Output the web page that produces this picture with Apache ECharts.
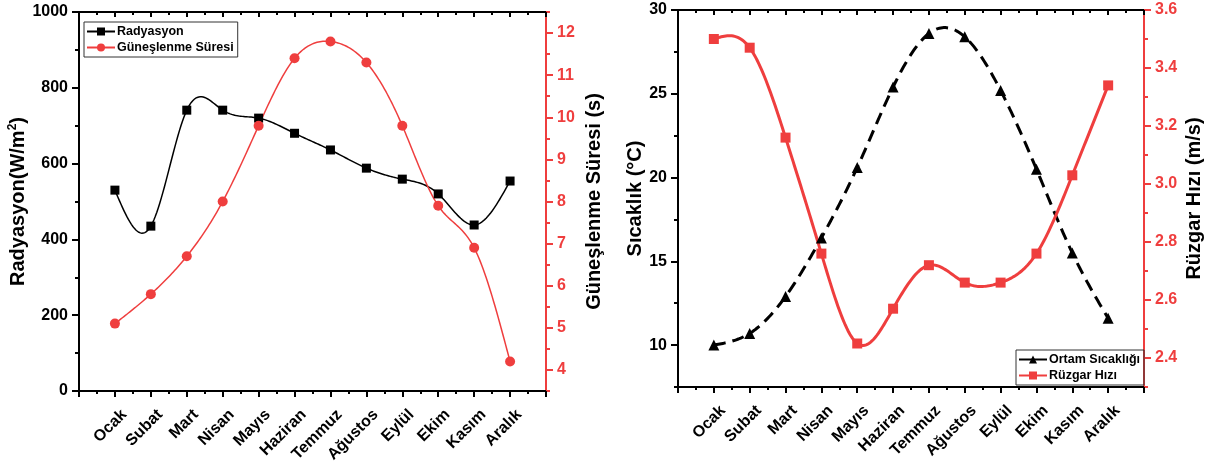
<!DOCTYPE html>
<html><head><meta charset="utf-8">
<script src="https://cdn.jsdelivr.net/npm/echarts@6/dist/echarts.min.js"></script>
<style>html,body{margin:0;padding:0;background:#fff}#c{width:1207px;height:461px}</style>
</head><body><div id="c"></div>
<script>
const months = ['Ocak','Subat','Mart','Nisan','Mayıs','Haziran','Temmuz','Ağustos','Eylül','Ekim','Kasım','Aralık'];
const radyasyon = [530,435,741,741,720,680,636,588,559,520,438,554];
const gunes = [5.1,5.8,6.7,8.0,9.8,11.4,11.8,11.3,9.8,7.9,6.9,4.2];
const sicaklik = [10.0,10.7,12.9,16.4,20.6,25.4,28.6,28.4,25.2,20.5,15.5,11.6];
const ruzgar = [3.5,3.47,3.16,2.76,2.45,2.57,2.72,2.66,2.66,2.76,3.03,3.34];
const radTicks = [0,200,400,600,800,1000];
const gunesTicks = [4,5,6,7,8,9,10,11,12];
const gunesMinor = [3.5,4.5,5.5,6.5,7.5,8.5,9.5,10.5,11.5,12.5];
const sicTicks = [10,15,20,25,30];
const sicMinor = [7.5,12.5,17.5,22.5,27.5];
const ruzTicks = [2.4,2.6,2.8,3.0,3.2,3.4,3.6];
const ruzMinor = [2.3,2.5,2.7,2.9,3.1,3.3,3.5];

const RED = '#ef3e3e';
const FONT = "'Liberation Sans', Arial, sans-serif";

function splinePoints(p, steps){
  const n = p.length;
  if (n < 3) return p;
  const h = [], M = new Array(n).fill(0);
  for (let i = 0; i < n - 1; i++) h[i] = p[i+1][0] - p[i][0];
  const A = [], B = [], C = [], D = [];
  for (let i = 1; i < n - 1; i++) {
    A.push(h[i-1]); B.push(2 * (h[i-1] + h[i])); C.push(h[i]);
    D.push(6 * ((p[i+1][1] - p[i][1]) / h[i] - (p[i][1] - p[i-1][1]) / h[i-1]));
  }
  const m = B.length;
  for (let i = 1; i < m; i++) {
    const w = A[i] / B[i-1];
    B[i] -= w * C[i-1]; D[i] -= w * D[i-1];
  }
  const X = new Array(m);
  X[m-1] = D[m-1] / B[m-1];
  for (let i = m - 2; i >= 0; i--) X[i] = (D[i] - C[i] * X[i+1]) / B[i];
  for (let i = 0; i < m; i++) M[i+1] = X[i];
  const out = [];
  for (let i = 0; i < n - 1; i++) {
    const x0 = p[i][0], x1 = p[i+1][0], y0 = p[i][1], y1 = p[i+1][1], hi = h[i];
    for (let s = 0; s < steps; s++) {
      const t = s / steps, x = x0 + t * hi;
      const a = x1 - x, b = x - x0;
      const y = M[i] * a * a * a / (6 * hi) + M[i+1] * b * b * b / (6 * hi)
        + (y0 / hi - M[i] * hi / 6) * a + (y1 / hi - M[i+1] * hi / 6) * b;
      out.push([x, y]);
    }
  }
  out.push(p[n-1]);
  return out;
}

function curve(xi, yi, vals, color, width, dash){
  return {
    type: 'custom', xAxisIndex: xi, yAxisIndex: yi, silent: true, z: 2,
    encode: {x: 0, y: 1},
    data: vals.map((v, i) => [i + 1, v]),
    renderItem(params, api){
      if (params.dataIndex !== 0) return null;
      const pts = vals.map((v, i) => api.coord([i + 1, v]));
      return {type: 'polyline', shape: {points: splinePoints(pts, 24)},
        style: {stroke: color, lineWidth: width, lineDash: dash || null, fill: null}};
    }
  };
}
function marks(xi, yi, vals, color, symbol, size){
  return {type: 'scatter', xAxisIndex: xi, yAxisIndex: yi, silent: true, z: 3,
    symbol, symbolSize: size, itemStyle: {color, opacity: 1},
    data: vals.map((v, i) => [i + 1, v])};
}
function legendSeries(name, xi, yi, color, symbol, size, width){
  return {type: 'line', name, xAxisIndex: xi, yAxisIndex: yi, data: [],
    symbol, symbolSize: size, itemStyle: {color}, lineStyle: {color, width}};
}

function xAxes(gi){
  const common = {gridIndex: gi, type: 'value', min: 0, max: 13, interval: 1,
    splitLine: {show: false},
    axisLine: {show: true, onZero: false, lineStyle: {color: '#000', width: 2}}};
  return [
    Object.assign({}, common, {position: 'bottom',
      axisTick: {show: true, length: 6, lineStyle: {width: 2, color: '#000'}},
      minorTick: {show: true, splitNumber: 2, length: 3, lineStyle: {width: 2, color: '#000'}},
      axisLabel: {rotate: 45, margin: 12, verticalAlign: 'top', lineHeight: 26, color: '#000', fontFamily: FONT, fontWeight: 'bold', fontSize: 16,
        formatter: v => months[v - 1] || ''}}),
    Object.assign({}, common, {position: 'top',
      axisTick: {show: true, inside: true, length: 5, lineStyle: {width: 2, color: '#000'}},
      minorTick: {show: true, splitNumber: 2, length: 3, lineStyle: {width: 2, color: '#000'}},
      axisLabel: {show: false}})
  ];
}
function hiddenX(gi){
  return {gridIndex: gi, type: 'value', min: 0, max: 13, show: false};
}
function yAx(gi, pos, min, max, ticks, color, fmt, name, gap, extra){
  return Object.assign({gridIndex: gi, type: 'value', position: pos, min, max,
    splitLine: {show: false},
    axisLine: {show: true, onZero: false, lineStyle: {color, width: 2}},
    axisTick: {show: true, interval: 0, length: 7, customValues: ticks, lineStyle: {color, width: 2}},
    axisLabel: {customValues: ticks, interval: 0, margin: 11, color, fontFamily: FONT, fontWeight: 'bold', fontSize: 16, formatter: fmt},
    name, nameLocation: 'middle', nameGap: gap,
    nameTextStyle: {color: '#000', fontFamily: FONT, fontWeight: 'bold', fontSize: 20}}, extra || {});
}
function yMinor(gi, pos, min, max, ticks, color){
  return {gridIndex: gi, type: 'value', position: pos, min, max,
    splitLine: {show: false},
    axisLine: {show: true, onZero: false, lineStyle: {color, width: 2}},
    axisTick: {show: true, interval: 0, length: 4, customValues: ticks, lineStyle: {color, width: 2}},
    axisLabel: {show: true, customValues: ticks, formatter: () => '', color: 'rgba(0,0,0,0)'}};
}

const G0 = {left: 79, top: 12, width: 467, height: 379, outerBoundsMode: 'none', containLabel: false};
const G1 = {left: 678, top: 10, width: 466, height: 377, outerBoundsMode: 'none', containLabel: false};
const legendCommon = {orient: 'vertical', borderColor: '#333', borderWidth: 1,
  padding: [3, 4, 3, 2], itemGap: 3, itemWidth: 28, itemHeight: 10, selectedMode: false,
  textStyle: {fontFamily: FONT, fontWeight: 'bold', fontSize: 12.5, color: '#000', padding: [0, 0, 0, -3]}};

const chart = echarts.init(document.getElementById('c'), null, {renderer: 'canvas'});
chart.setOption({
  backgroundColor: '#fff',
  animation: false,
  grid: [Object.assign({}, G0), Object.assign({}, G1), Object.assign({}, G0), Object.assign({}, G1)],
  legend: [
    Object.assign({data: ['Radyasyon', 'Güneşlenme Süresi'], left: 84, top: 22}, legendCommon),
    Object.assign({data: ['Ortam Sıcaklığı', 'Rüzgar Hızı'], left: 1016, top: 350}, legendCommon)
  ],
  xAxis: [...xAxes(0), ...xAxes(1), hiddenX(2), hiddenX(3)],
  yAxis: [
    yAx(0, 'left', 0, 1000, radTicks, '#000', v => v,
      '{a|Radyasyon(W/m}{s|2}{a|)}', 42,
      {minorTick: {show: true, splitNumber: 2, length: 4, lineStyle: {width: 2, color: '#000'}},
       interval: 200,
       nameTextStyle: {color: '#000', rich: {
         a: {fontFamily: FONT, fontWeight: 'bold', fontSize: 20, color: '#000', lineHeight: 24},
         s: {fontFamily: FONT, fontWeight: 'bold', fontSize: 12, color: '#000', verticalAlign: 'top', lineHeight: 24}}}}),
    yAx(0, 'right', 3.5, 12.5, gunesTicks, RED, v => v, 'Güneşlenme Süresi (s)', 38),
    yAx(1, 'left', 7.5, 30, sicTicks, '#000', v => v, 'Sıcaklık (°C)', 32),
    yAx(1, 'right', 2.3, 3.6, ruzTicks, RED, v => v.toFixed(1), 'Rüzgar Hızı (m/s)', 40),
    yMinor(2, 'right', 3.5, 12.5, gunesMinor, RED),
    yMinor(3, 'left', 7.5, 30, sicMinor, '#000'),
    yMinor(3, 'right', 2.3, 3.6, ruzMinor, RED)
  ],
  series: [
    legendSeries('Radyasyon', 0, 0, '#000', 'rect', 8, 1.5),
    legendSeries('Güneşlenme Süresi', 0, 1, RED, 'circle', 9, 1.5),
    legendSeries('Ortam Sıcaklığı', 2, 2, '#000', 'triangle', 10, 2.5),
    legendSeries('Rüzgar Hızı', 2, 3, RED, 'rect', 9, 2.5),
    curve(0, 0, radyasyon, '#000', 1.5),
    curve(0, 1, gunes, RED, 1.5),
    curve(2, 2, sicaklik, '#000', 3, [12, 7]),
    curve(2, 3, ruzgar, RED, 3),
    marks(0, 0, radyasyon, '#000', 'rect', 9),
    marks(0, 1, gunes, RED, 'circle', 10),
    marks(2, 2, sicaklik, '#000', 'triangle', 11),
    marks(2, 3, ruzgar, RED, 'rect', 10)
  ]
});
</script></body></html>
